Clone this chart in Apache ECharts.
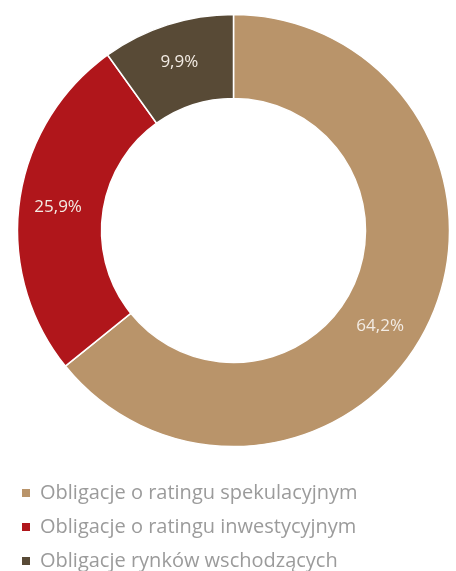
<!DOCTYPE html>
<html>
<head>
<meta charset="utf-8">
<script src="https://cdn.jsdelivr.net/npm/echarts@6/dist/echarts.min.js"></script>
<style>
  html, body { margin: 0; padding: 0; background: #fff; }
  #chart { width: 456px; height: 571px; }
</style>
</head>
<body>
<div id="chart"></div>
<script>
  // udział poszczególnych grup obligacji
  const categories = ['Obligacje o ratingu spekulacyjnym', 'Obligacje o ratingu inwestycyjnym', 'Obligacje rynków wschodzących']
  const values = [64.2, 25.9, 9.9]
  const colors = ['#b9946a', '#b0161b', '#584a36']

  const chart = echarts.init(document.getElementById('chart'))
  chart.setOption({
    animation: false,
    color: colors,
    legend: {
      orient: 'vertical',
      left: 20,
      top: 481,
      height: 120,
      padding: 0,
      icon: 'rect',
      itemWidth: 10,
      itemHeight: 10,
      itemGap: 10,
      textStyle: {
        color: '#9b9b9b',
        fontSize: 20,
        lineHeight: 24,
        fontFamily: 'Open Sans',
        padding: [0, 0, 0, 4]
      },
      data: categories
    },
    series: [
      {
        type: 'pie',
        center: [233.5, 230.5],
        radius: [132, 216],
        startAngle: 90,
        clockwise: true,
        itemStyle: {
          borderColor: '#fff',
          borderWidth: 1.5
        },
        label: {
          position: 'inside',
          color: '#f3ece4',
          fontSize: 17,
          fontFamily: 'Open Sans',
          formatter: p => p.value.toFixed(1).replace('.', ',') + '%'
        },
        labelLine: { show: false },
        emphasis: { disabled: true },
        data: categories.map((c, i) => ({
          name: c,
          value: values[i],
          label: i === 0 ? { offset: [-13, 19] } : {}
        }))
      }
    ]
  })
</script>
</body>
</html>
